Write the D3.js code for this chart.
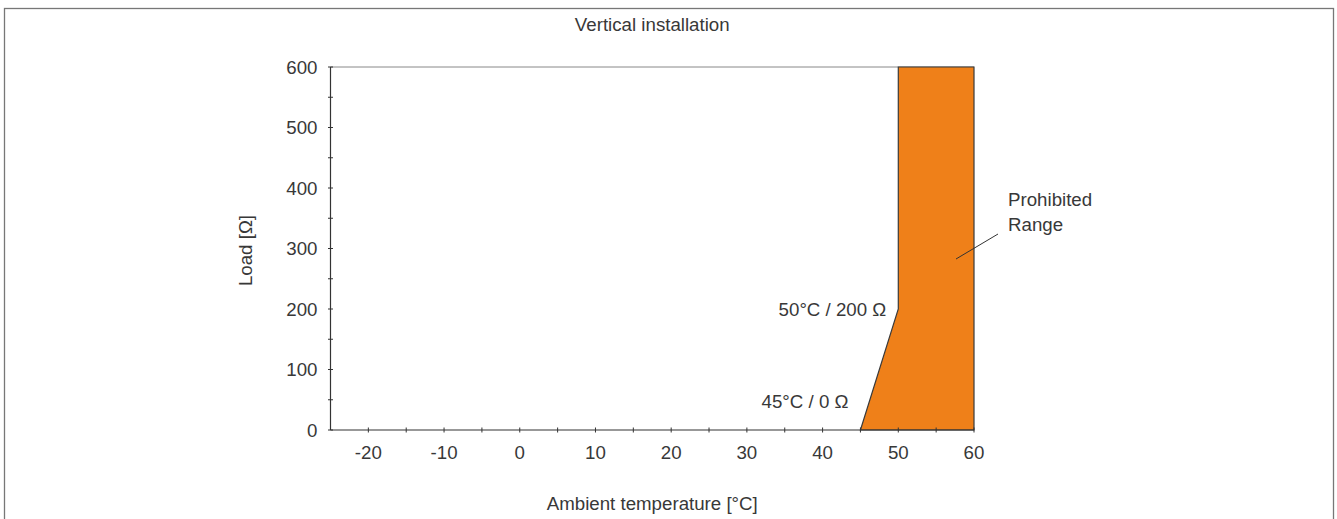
<!DOCTYPE html>
<html>
<head>
<meta charset="utf-8">
<script src="https://cdn.jsdelivr.net/npm/d3@7"></script>
<style>
  html, body { margin: 0; padding: 0; background: #fff; }
  svg { display: block; font-family: "Liberation Sans", Arial, sans-serif; }
</style>
</head>
<body>
<svg id="chart" width="1337" height="519"></svg>
<script>
// ---- data ----
const title = "Vertical installation";
const xLabel = "Ambient temperature [°C]";
const yLabel = "Load [Ω]";
const xDomain = [-25, 60];
const yDomain = [0, 600];
const xTickLabels = [-20, -10, 0, 10, 20, 30, 40, 50, 60];
const xMinorTicks = [-20, -15, -10, -5, 0, 5, 10, 15, 20, 25, 30, 35, 40, 45, 50, 55, 60];
const yTickLabels = [0, 100, 200, 300, 400, 500, 600];
const yMinorTicks = [0, 50, 100, 150, 200, 250, 300, 350, 400, 450, 500, 550, 600];
// prohibited region boundary (temperature, load)
const regionTemp = [45, 50, 50, 60, 60];
const regionLoad = [0, 200, 600, 600, 0];
const annotations = [
  { text: "50°C / 200 Ω", t: 50, r: 200 },
  { text: "45°C / 0 Ω", t: 45, r: 0 }
];
const regionLabel = ["Prohibited", "Range"];

// ---- layout ----
const svg = d3.select("#chart");
const plot = { left: 330.5, right: 974, top: 67, bottom: 430 };
const x = d3.scaleLinear().domain(xDomain).range([plot.left, plot.right]);
const y = d3.scaleLinear().domain(yDomain).range([plot.bottom, plot.top]);
const textColor = "#383838";
const fs = 18.7;

// outer frame
svg.append("rect")
  .attr("x", 4.5).attr("y", 8.5)
  .attr("width", 1329).attr("height", 540)
  .attr("fill", "none").attr("stroke", "#777").attr("stroke-width", 1.3);

// title
svg.append("text")
  .attr("x", (plot.left + plot.right) / 2).attr("y", 31)
  .attr("text-anchor", "middle").attr("font-size", fs).attr("fill", textColor)
  .text(title);

// top frame line
svg.append("line")
  .attr("x1", x(xDomain[0])).attr("x2", x(xDomain[1]))
  .attr("y1", y(yDomain[1])).attr("y2", y(yDomain[1]))
  .attr("stroke", "#888").attr("stroke-width", 1);

// prohibited region
const pts = regionTemp.map((t, i) => [x(t), y(regionLoad[i])]);
svg.append("path")
  .attr("d", d3.line()(pts) + "Z")
  .attr("fill", "#ef8019").attr("stroke", "#3a3a3a").attr("stroke-width", 1.2);

// axes lines
svg.append("line")
  .attr("x1", x(xDomain[0])).attr("x2", x(xDomain[1]))
  .attr("y1", y(0)).attr("y2", y(0))
  .attr("stroke", "#333").attr("stroke-width", 1.2);
svg.append("line")
  .attr("x1", x(xDomain[0])).attr("x2", x(xDomain[0]))
  .attr("y1", y(yDomain[0])).attr("y2", y(yDomain[1]))
  .attr("stroke", "#333").attr("stroke-width", 1.2);

// x ticks (crossing the axis)
svg.append("g").selectAll("line").data(xMinorTicks).join("line")
  .attr("x1", d => x(d)).attr("x2", d => x(d))
  .attr("y1", y(0) - 2.5).attr("y2", y(0) + 2.5)
  .attr("stroke", "#333").attr("stroke-width", 1);
svg.append("g").selectAll("text").data(xTickLabels).join("text")
  .attr("x", d => x(d)).attr("y", y(0) + 29)
  .attr("text-anchor", "middle").attr("font-size", fs).attr("fill", textColor)
  .text(d => d);

// y ticks
svg.append("g").selectAll("line").data(yMinorTicks).join("line")
  .attr("x1", x(xDomain[0]) - 2.5).attr("x2", x(xDomain[0]) + 2.5)
  .attr("y1", d => y(d)).attr("y2", d => y(d))
  .attr("stroke", "#333").attr("stroke-width", 1);
svg.append("g").selectAll("text").data(yTickLabels).join("text")
  .attr("x", x(xDomain[0]) - 13).attr("y", d => y(d) + 6.5)
  .attr("text-anchor", "end").attr("font-size", fs).attr("fill", textColor)
  .text(d => d);

// axis titles
svg.append("text")
  .attr("x", (plot.left + plot.right) / 2).attr("y", 510)
  .attr("text-anchor", "middle").attr("font-size", fs).attr("fill", textColor)
  .text(xLabel);
svg.append("text")
  .attr("transform", `translate(252, ${(plot.top + plot.bottom) / 2 + 2}) rotate(-90)`)
  .attr("text-anchor", "middle").attr("font-size", fs).attr("fill", textColor)
  .text(yLabel);

// point annotations
svg.append("text")
  .attr("x", x(annotations[0].t) - 12).attr("y", y(annotations[0].r) + 7)
  .attr("text-anchor", "end").attr("font-size", fs).attr("fill", textColor)
  .text(annotations[0].text);
svg.append("text")
  .attr("x", x(annotations[1].t) - 12).attr("y", y(annotations[1].r) - 22)
  .attr("text-anchor", "end").attr("font-size", fs).attr("fill", textColor)
  .text(annotations[1].text);

// region label + leader
const lbl = svg.append("text").attr("font-size", fs).attr("fill", textColor);
regionLabel.forEach((s, i) => {
  lbl.append("tspan").attr("x", x(60) + 34).attr("y", 206 + i * 25).text(s);
});
svg.append("line")
  .attr("x1", x(60) + 24).attr("y1", 234)
  .attr("x2", x(60) - 18).attr("y2", 259)
  .attr("stroke", "#333").attr("stroke-width", 1);
</script>
</body>
</html>
